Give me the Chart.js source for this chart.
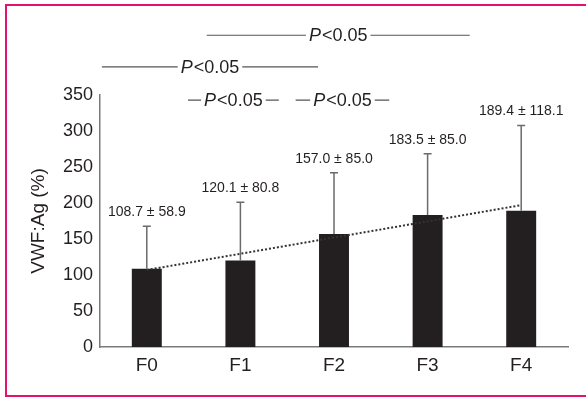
<!DOCTYPE html>
<html>
<head>
<meta charset="utf-8">
<script src="https://cdn.jsdelivr.net/npm/chart.js@4/dist/chart.umd.min.js"></script>
<style>
  html, body { margin: 0; padding: 0; background: #fff; }
  #wrap { position: relative; width: 586px; height: 397px; overflow: hidden; }
  #frame {
    position: absolute; left: 5px; top: 4px; width: 600px; height: 389px;
    border: 2px solid #e3116f;
  }
  #chart { position: absolute; left: 0; top: 0; }
</style>
</head>
<body>
<div id="wrap">
  <div id="frame"></div>
  <canvas id="chart" width="586" height="397"></canvas>
</div>
<script>
const FONT = '"Liberation Sans", Arial, Helvetica, sans-serif';

// values
const groups = ['F0', 'F1', 'F2', 'F3', 'F4'];
const means = [108.7, 120.1, 157.0, 183.5, 189.4];
const sds = [58.9, 80.8, 85.0, 85.0, 118.1];
const trend = [107, null, null, null, 197];   // dotted trend line ends
const yTicks = [0, 50, 100, 150, 200, 250, 300, 350];

// significance lines: [from index, to index, level in axis units]
const pLines = [
  [0.64, 3.45, 433],
  [-0.48, 1.83, 389],
  [0.44, 1.41, 343],
  [1.59, 2.59, 343],
];
const pText = 'P<0.05';

const errorBars = {
  id: 'errorBars',
  afterDatasetsDraw(chart) {
    const ctx = chart.ctx;
    const y = chart.scales.y;
    const meta = chart.getDatasetMeta(0);
    ctx.save();
    meta.data.forEach((bar, i) => {
      const top = y.getPixelForValue(means[i] + sds[i]);
      const base = y.getPixelForValue(means[i]);
      ctx.strokeStyle = '#6b6b6b';
      ctx.lineWidth = 1.5;
      ctx.beginPath();
      ctx.moveTo(bar.x, base);
      ctx.lineTo(bar.x, top);
      ctx.moveTo(bar.x - 4, top);
      ctx.lineTo(bar.x + 4, top);
      ctx.stroke();
      ctx.fillStyle = '#231f20';
      ctx.font = '14px ' + FONT;
      ctx.textAlign = 'center';
      ctx.textBaseline = 'middle';
      ctx.fillText(means[i].toFixed(1) + ' \u00b1 ' + sds[i].toFixed(1), bar.x, top - 14);
    });
    ctx.restore();
  }
};

const pValues = {
  id: 'pValues',
  afterDraw(chart) {
    const ctx = chart.ctx;
    const x = chart.scales.x;
    const y = chart.scales.y;
    const x0 = x.getPixelForValue(0);
    const step = x.getPixelForValue(1) - x0;
    ctx.save();
    ctx.font = 'italic 18px ' + FONT;
    const wP = ctx.measureText('P').width;
    ctx.font = '18px ' + FONT;
    const wRest = ctx.measureText('<0.05').width;
    const w = wP + 1 + wRest;
    pLines.forEach(([a, b, lvl]) => {
      const left = x0 + a * step;
      const right = x0 + b * step;
      const py = y.getPixelForValue(lvl);
      const mid = (left + right) / 2;
      ctx.strokeStyle = '#555';
      ctx.lineWidth = 1.2;
      ctx.beginPath();
      ctx.moveTo(left, py);
      ctx.lineTo(mid - w / 2 - 3, py);
      ctx.moveTo(mid + w / 2 + 3, py);
      ctx.lineTo(right, py);
      ctx.stroke();
      ctx.fillStyle = '#231f20';
      ctx.textAlign = 'left';
      ctx.textBaseline = 'middle';
      ctx.font = 'italic 18px ' + FONT;
      ctx.fillText('P', mid - w / 2, py + 1);
      ctx.font = '18px ' + FONT;
      ctx.fillText(pText.slice(1), mid - w / 2 + wP + 1, py + 1);
    });
    ctx.restore();
  }
};

new Chart(document.getElementById('chart'), {
  type: 'bar',
  data: {
    labels: groups,
    datasets: [
      {
        type: 'line',
        data: trend,
        spanGaps: true,
        borderColor: '#333',
        borderWidth: 2,
        borderDash: [2, 2],
        pointRadius: 0,
        order: 0
      },
      {
        data: means,
        backgroundColor: '#231f20',
        barPercentage: 0.32,
        categoryPercentage: 1,
        order: 1
      }
    ]
  },
  options: {
    responsive: false,
    animation: false,
    events: [],
    layout: { padding: { top: 95, right: 18, left: 0, bottom: 0 } },
    plugins: { legend: { display: false }, tooltip: { enabled: false } },
    scales: {
      x: {
        grid: { display: false, drawTicks: false },
        border: { color: '#7a7a7a', width: 1.5 },
        ticks: { color: '#231f20', font: { family: FONT, size: 19 }, padding: 7 },
        afterFit(s) { s.height = 50; }
      },
      y: {
        min: 0,
        max: 350,
        afterBuildTicks(s) { s.ticks = yTicks.map(v => ({ value: v })); },
        grid: { display: false, drawTicks: false },
        border: { color: '#7a7a7a', width: 1.5 },
        ticks: { color: '#231f20', font: { family: FONT, size: 18 }, padding: 7 },
        title: {
          display: true,
          text: 'VWF:Ag (%)',
          color: '#231f20',
          font: { family: FONT, size: 19 },
          padding: { top: 27, bottom: 0 }
        },
        afterFit(s) { s.width = 100; }
      }
    }
  },
  plugins: [errorBars, pValues]
});
</script>
</body>
</html>
